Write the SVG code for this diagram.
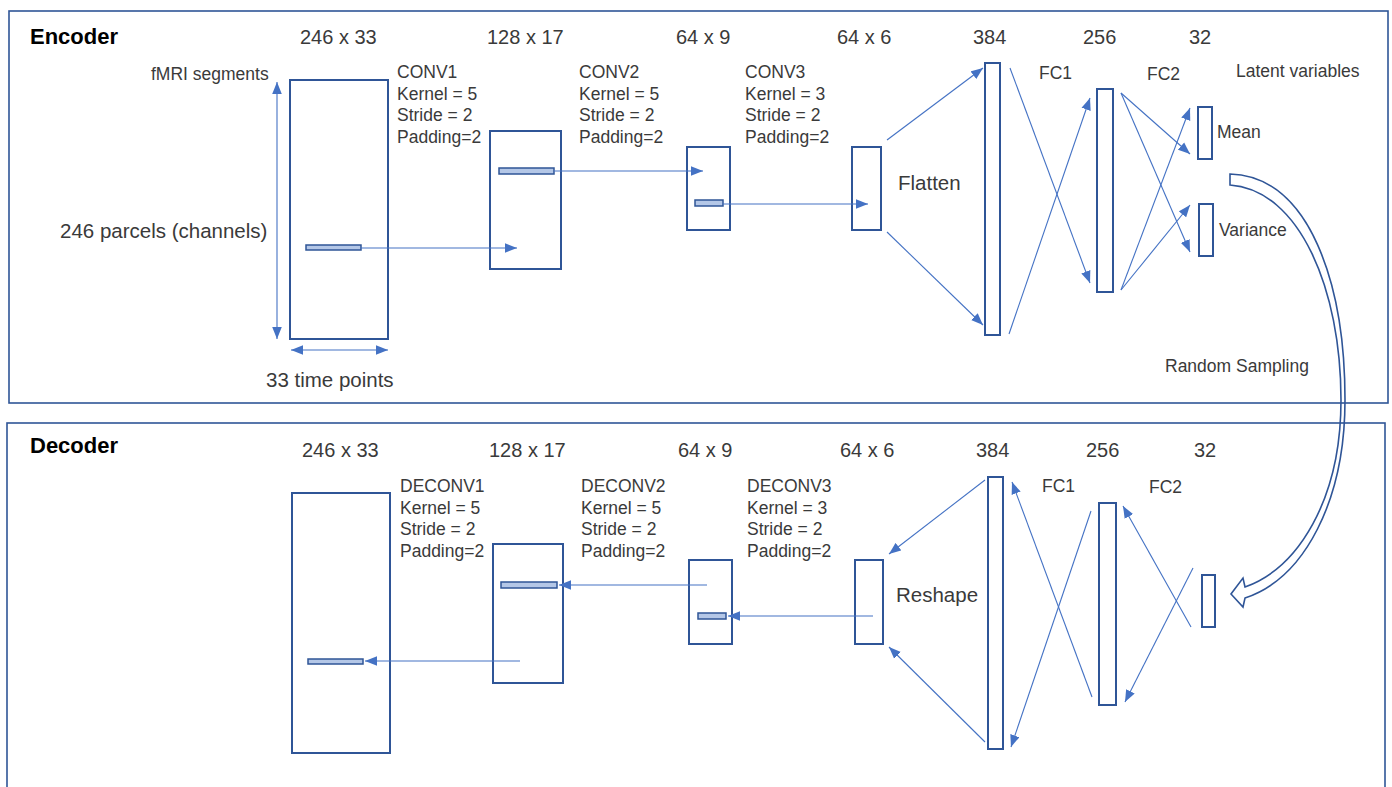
<svg xmlns="http://www.w3.org/2000/svg" width="1392" height="787" viewBox="0 0 1392 787">
<defs>
<marker id="ah" viewBox="0 0 10 8" refX="10" refY="4" markerWidth="12" markerHeight="10" orient="auto-start-reverse" markerUnits="userSpaceOnUse"><path d="M0,0 L10,4 L0,8 z" fill="#4472C4"/></marker>
<style>
.frame{fill:none;stroke:#2F5597;stroke-width:1.6}
.blk{fill:#fff;stroke:#2F5597;stroke-width:2}
.bar{fill:#B4C7E7;stroke:#2F5597;stroke-width:1.5}
.ln{fill:none;stroke:#4472C4;stroke-width:1.1}
.arr{fill:none;stroke:#4472C4;stroke-width:1.1;marker-end:url(#ah)}
.dbl{fill:none;stroke:#4472C4;stroke-width:1.1;marker-end:url(#ah);marker-start:url(#ah)}
text{font-family:"Liberation Sans",Arial,sans-serif;fill:#3a3a3a}
.title{font-size:22px;font-weight:bold;fill:#000}
.dim{font-size:20px}
.lab{font-size:17.5px}
.big{font-size:20.5px}
</style>
</defs>
<rect class="frame" x="9" y="11" width="1379" height="392"/>
<rect class="frame" x="7" y="423" width="1378" height="372"/>

<g id="encoder-labels">
<text class="title" x="30" y="44">Encoder</text>
<text class="dim" x="300" y="44">246 x 33</text>
<text class="dim" x="487" y="44">128 x 17</text>
<text class="dim" x="676" y="44">64 x 9</text>
<text class="dim" x="837" y="44">64 x 6</text>
<text class="dim" x="973" y="44">384</text>
<text class="dim" x="1083" y="44">256</text>
<text class="dim" x="1189" y="44">32</text>
<text class="lab" x="151" y="80">fMRI segments</text>
<text class="big" x="60" y="238">246 parcels (channels)</text>
<text class="big" x="266" y="387">33 time points</text>
<text class="lab" x="397" y="78">CONV1</text>
<text class="lab" x="397" y="100">Kernel = 5</text>
<text class="lab" x="397" y="121">Stride = 2</text>
<text class="lab" x="397" y="143">Padding=2</text>
<text class="lab" x="579" y="78">CONV2</text>
<text class="lab" x="579" y="100">Kernel = 5</text>
<text class="lab" x="579" y="121">Stride = 2</text>
<text class="lab" x="579" y="143">Padding=2</text>
<text class="lab" x="745" y="78">CONV3</text>
<text class="lab" x="745" y="100">Kernel = 3</text>
<text class="lab" x="745" y="121">Stride = 2</text>
<text class="lab" x="745" y="143">Padding=2</text>
<text class="big" x="898" y="190">Flatten</text>
<text class="lab" x="1039" y="79">FC1</text>
<text class="lab" x="1147" y="80">FC2</text>
<text class="lab" x="1236" y="77">Latent variables</text>
<text class="lab" x="1217" y="138">Mean</text>
<text class="lab" x="1219" y="236">Variance</text>
<text class="lab" x="1165" y="372">Random Sampling</text>
</g>

<g id="enc-input"><rect class="blk" x="290" y="80" width="98" height="259"/><rect class="bar" x="306" y="245" width="55" height="5"/></g>
<g id="enc-conv1"><rect class="blk" x="490" y="131" width="71" height="138"/><rect class="bar" x="499" y="168" width="55" height="6"/></g>
<g id="enc-conv2"><rect class="blk" x="687" y="147" width="43" height="83"/><rect class="bar" x="695" y="200" width="28" height="6"/></g>
<g id="enc-conv3"><rect class="blk" x="852" y="147" width="29" height="83"/></g>
<g id="enc-flat"><rect class="blk" x="985" y="63" width="15" height="272"/></g>
<g id="enc-fc1"><rect class="blk" x="1097" y="89" width="16" height="203"/></g>
<g id="enc-mean"><rect class="blk" x="1198" y="107" width="14" height="52"/></g>
<g id="enc-var"><rect class="blk" x="1199" y="204" width="14" height="52"/></g>

<g id="decoder-labels">
<text class="title" x="30" y="453">Decoder</text>
<text class="dim" x="302" y="457">246 x 33</text>
<text class="dim" x="489" y="457">128 x 17</text>
<text class="dim" x="678" y="457">64 x 9</text>
<text class="dim" x="840" y="457">64 x 6</text>
<text class="dim" x="976" y="457">384</text>
<text class="dim" x="1086" y="457">256</text>
<text class="dim" x="1194" y="457">32</text>
<text class="lab" x="400" y="492">DECONV1</text>
<text class="lab" x="400" y="514">Kernel = 5</text>
<text class="lab" x="400" y="535">Stride = 2</text>
<text class="lab" x="400" y="557">Padding=2</text>
<text class="lab" x="581" y="492">DECONV2</text>
<text class="lab" x="581" y="514">Kernel = 5</text>
<text class="lab" x="581" y="535">Stride = 2</text>
<text class="lab" x="581" y="557">Padding=2</text>
<text class="lab" x="747" y="492">DECONV3</text>
<text class="lab" x="747" y="514">Kernel = 3</text>
<text class="lab" x="747" y="535">Stride = 2</text>
<text class="lab" x="747" y="557">Padding=2</text>
<text class="big" x="896" y="602">Reshape</text>
<text class="lab" x="1042" y="492">FC1</text>
<text class="lab" x="1149" y="493">FC2</text>
</g>

<g id="dec-out"><rect class="blk" x="292" y="493" width="98" height="260"/><rect class="bar" x="308" y="659" width="55" height="5"/></g>
<g id="dec-deconv1"><rect class="blk" x="493" y="544" width="70" height="139"/><rect class="bar" x="501" y="582" width="56" height="6"/></g>
<g id="dec-deconv2"><rect class="blk" x="689" y="560" width="43" height="84"/><rect class="bar" x="698" y="613" width="28" height="6"/></g>
<g id="dec-reshape"><rect class="blk" x="855" y="560" width="28" height="84"/></g>
<g id="dec-384"><rect class="blk" x="988" y="477" width="15" height="272"/></g>
<g id="dec-256"><rect class="blk" x="1099" y="503" width="17" height="202"/></g>
<g id="dec-32"><rect class="blk" x="1202" y="575" width="13" height="52"/></g>

<g id="connectors">
<line class="dbl" x1="277" y1="82" x2="277" y2="339"/>
<line class="dbl" x1="291" y1="350" x2="388" y2="350"/>
<line class="arr" x1="361" y1="248" x2="517" y2="248"/>
<line class="arr" x1="554" y1="171" x2="703" y2="171"/>
<line class="arr" x1="723" y1="204" x2="868" y2="204"/>
<line class="arr" x1="887" y1="140" x2="983" y2="68"/>
<line class="arr" x1="887" y1="232" x2="983" y2="325"/>
<line class="arr" x1="1010" y1="68" x2="1090" y2="283"/>
<line class="arr" x1="1009" y1="334" x2="1090" y2="98"/>
<line class="arr" x1="1121" y1="93" x2="1190" y2="154"/>
<line class="arr" x1="1121" y1="93" x2="1190" y2="252"/>
<line class="arr" x1="1121" y1="290" x2="1190" y2="108"/>
<line class="arr" x1="1121" y1="290" x2="1190" y2="205"/>

<line class="arr" x1="520" y1="661" x2="365" y2="661"/>
<line class="arr" x1="707" y1="585" x2="559" y2="585"/>
<line class="arr" x1="873" y1="616" x2="728" y2="616"/>
<line class="arr" x1="985" y1="480" x2="889" y2="554"/>
<line class="arr" x1="985" y1="742" x2="889" y2="647"/>
<line class="arr" x1="1092" y1="697" x2="1012" y2="482"/>
<line class="arr" x1="1091" y1="511" x2="1011" y2="747"/>
<line class="arr" x1="1191" y1="627" x2="1123" y2="506"/>
<line class="arr" x1="1193" y1="568" x2="1125" y2="702"/>

<path id="sampling-arrow" d="M1230,174 C1310,176 1345,285 1345,400 C1345,500 1305,578 1245,598 L1243,607 L1231,594 L1243,578 L1245,587 C1298,568 1341,500 1341,400 C1341,290 1300,190 1230,185 Z" fill="none" stroke="#2F5597" stroke-width="1.6" stroke-linejoin="miter"/>
</g>
</svg>
